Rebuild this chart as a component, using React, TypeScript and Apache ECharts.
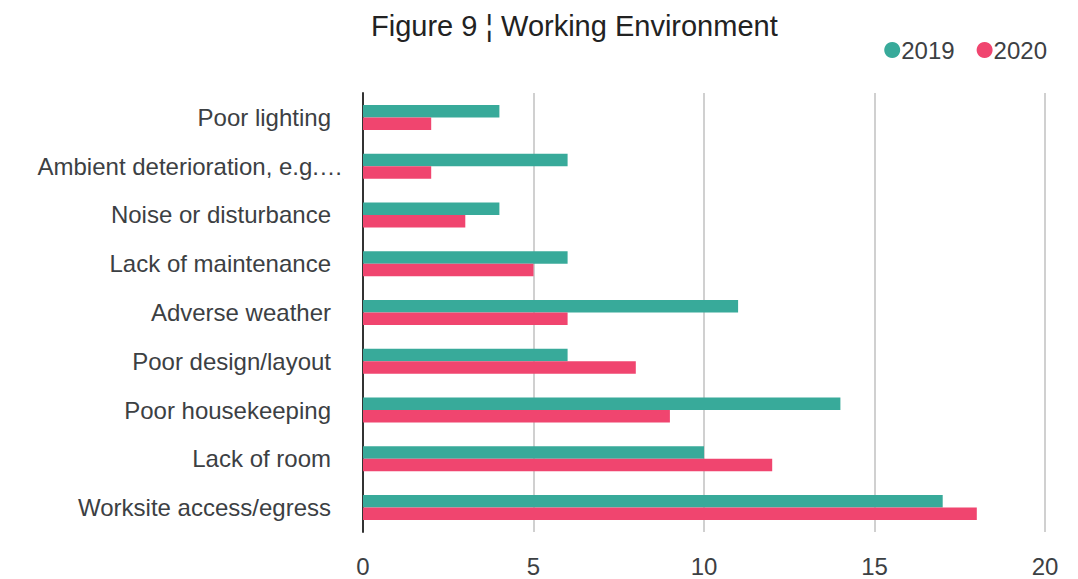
import React, { useEffect, useRef } from "react";
import * as echarts from "echarts";

const categories = [
  "Poor lighting",
  "Ambient deterioration, e.g.…",
  "Noise or disturbance",
  "Lack of maintenance",
  "Adverse weather",
  "Poor design/layout",
  "Poor housekeeping",
  "Lack of room",
  "Worksite access/egress",
];
const values2019 = [4, 6, 4, 6, 11, 6, 14, 10, 17];
const values2020 = [2, 2, 3, 5, 6, 8, 9, 12, 18];
const seriesNames = ["2019", "2020"];
const xTicks = { min: 0, max: 20, interval: 5 };

export default function App() {
  const ref = useRef<HTMLDivElement>(null);
  useEffect(() => {
    if (!ref.current) return;
    const chart = echarts.init(ref.current, null, { renderer: "svg" });
    const font = "Liberation Sans, Arial, sans-serif";
    const textColor = "#3c4043";
    chart.setOption({
      animation: false,
      color: ["#38aa9a", "#f0456f"],
      title: {
        text: "Figure 9 ¦ Working Environment",
        left: 366,
        top: 6,
        textStyle: { fontFamily: font, fontSize: 29, fontWeight: "normal", color: "#222" },
      },
      legend: {
        data: seriesNames,
        right: 26,
        top: 33,
        icon: "circle",
        itemWidth: 16,
        itemHeight: 16,
        itemGap: 22,
        textStyle: { fontFamily: font, fontSize: 24, color: textColor, padding: [0, 0, 0, -4] },
      },
      grid: { left: 363, right: 33, top: 93, bottom: 47, containLabel: false },
      xAxis: {
        type: "value",
        min: xTicks.min,
        max: xTicks.max,
        interval: xTicks.interval,
        axisLine: { show: false },
        axisTick: { show: false },
        axisLabel: { fontFamily: font, fontSize: 24, color: textColor, margin: 22 },
        splitLine: { show: true, lineStyle: { color: "#d0d0d0", width: 2 } },
      },
      yAxis: {
        type: "category",
        data: categories,
        inverse: true,
        axisLine: { show: true, lineStyle: { color: "#333", width: 2 } },
        axisTick: { show: false },
        axisLabel: {
          margin: 20,
          formatter: (v: string) => (v.endsWith("…") ? `{b|${v}}` : `{a|${v}}`),
          rich: {
            a: { fontFamily: font, fontSize: 24, color: textColor, padding: [0, 12, 0, 0] },
            b: { fontFamily: font, fontSize: 24, color: textColor },
          },
        },
      },
      series: [
        { name: seriesNames[0], type: "bar", data: values2019, barWidth: 12.5, barGap: "0%" },
        { name: seriesNames[1], type: "bar", data: values2020, barWidth: 12.5, barGap: "0%" },
      ],
    });
    return () => chart.dispose();
  }, []);
  return <div ref={ref} style={{ width: 1078, height: 579, position: "absolute", left: 0, top: 0 }} />;
}
